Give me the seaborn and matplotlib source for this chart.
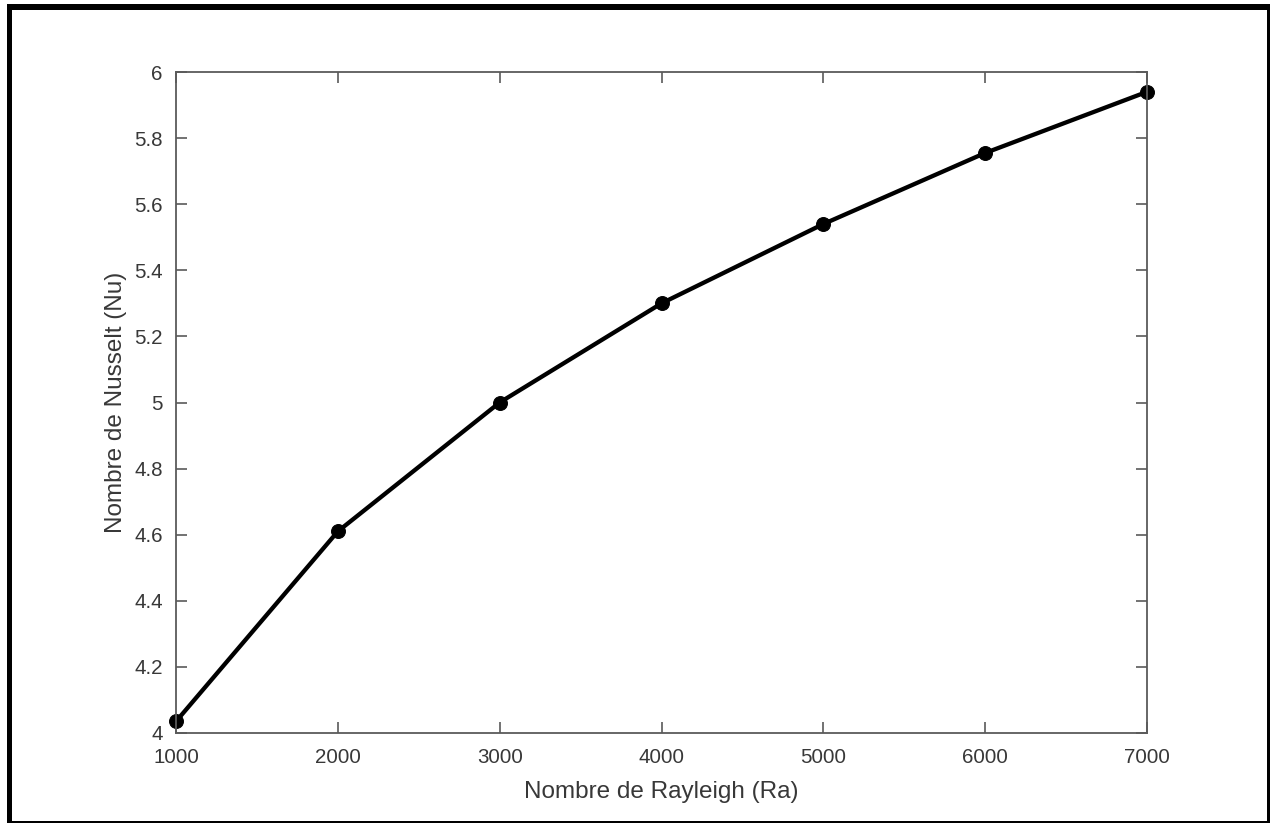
import matplotlib
matplotlib.use("Agg")
import matplotlib.pyplot as plt
import seaborn as sns
import pandas as pd
from matplotlib.patches import Rectangle

# Nusselt number versus Rayleigh number
rayleigh = [1000, 2000, 3000, 4000, 5000, 6000, 7000]
nusselt = [4.035, 4.61, 5.00, 5.30, 5.54, 5.755, 5.94]
x_ticks = [1000, 2000, 3000, 4000, 5000, 6000, 7000]
y_ticks = [4.0, 4.2, 4.4, 4.6, 4.8, 5.0, 5.2, 5.4, 5.6, 5.8, 6.0]
y_tick_labels = ["4", "4.2", "4.4", "4.6", "4.8", "5", "5.2", "5.4", "5.6", "5.8", "6"]

df = pd.DataFrame({"Ra": rayleigh, "Nu": nusselt})

sns.set_theme(style="white")
plt.rcParams["font.family"] = ["Liberation Sans", "DejaVu Sans"]

W, H = 1271, 823
fig = plt.figure(figsize=(W / 100, H / 100), dpi=100)
ax = fig.add_axes([176 / W, 1 - 733 / H, (1147 - 176) / W, (733 - 72) / H])

sns.lineplot(data=df, x="Ra", y="Nu", ax=ax, color="black", linewidth=3.1,
             marker="o", markersize=10, markeredgecolor="black",
             markerfacecolor="black", clip_on=False)

ax.set_xlim(1000, 7000)
ax.set_ylim(4, 6)
ax.set_xticks(x_ticks)
ax.set_xticklabels([str(v) for v in x_ticks])
ax.set_yticks(y_ticks)
ax.set_yticklabels(y_tick_labels)

axis_grey = "#5a5a5a"
text_grey = "#383838"
for sp in ax.spines.values():
    sp.set_visible(True)
    sp.set_color(axis_grey)
    sp.set_linewidth(1.3)

ax.tick_params(axis="both", which="major", direction="in", length=8, width=1.2,
               color=axis_grey, top=True, right=True, bottom=True, left=True,
               labelsize=14.8, labelcolor=text_grey)
ax.tick_params(axis="x", pad=11)
ax.tick_params(axis="y", pad=9.5)

ax.set_xlabel("Nombre de Rayleigh (Ra)", fontsize=17.5, color=text_grey, labelpad=10)
ax.set_ylabel("Nombre de Nusselt (Nu)", fontsize=17.5, color=text_grey, labelpad=5.5)


def frame_band(x0, y0, x1, y1):
    """Filled band in pixel coordinates (origin top-left)."""
    fig.patches.append(Rectangle((x0 / W, 1 - y1 / H), (x1 - x0) / W, (y1 - y0) / H,
                                 transform=fig.transFigure, facecolor="black",
                                 edgecolor="none", zorder=10))


# outer frame: heavy on top and left, thin on right and bottom
frame_band(7, 4, 1270, 10)
frame_band(7, 4, 12, 823)
frame_band(1267, 4, 1269.5, 823)
frame_band(7, 820.5, 1269.5, 822.5)

fig.savefig("out.png", dpi=100, facecolor="white")
